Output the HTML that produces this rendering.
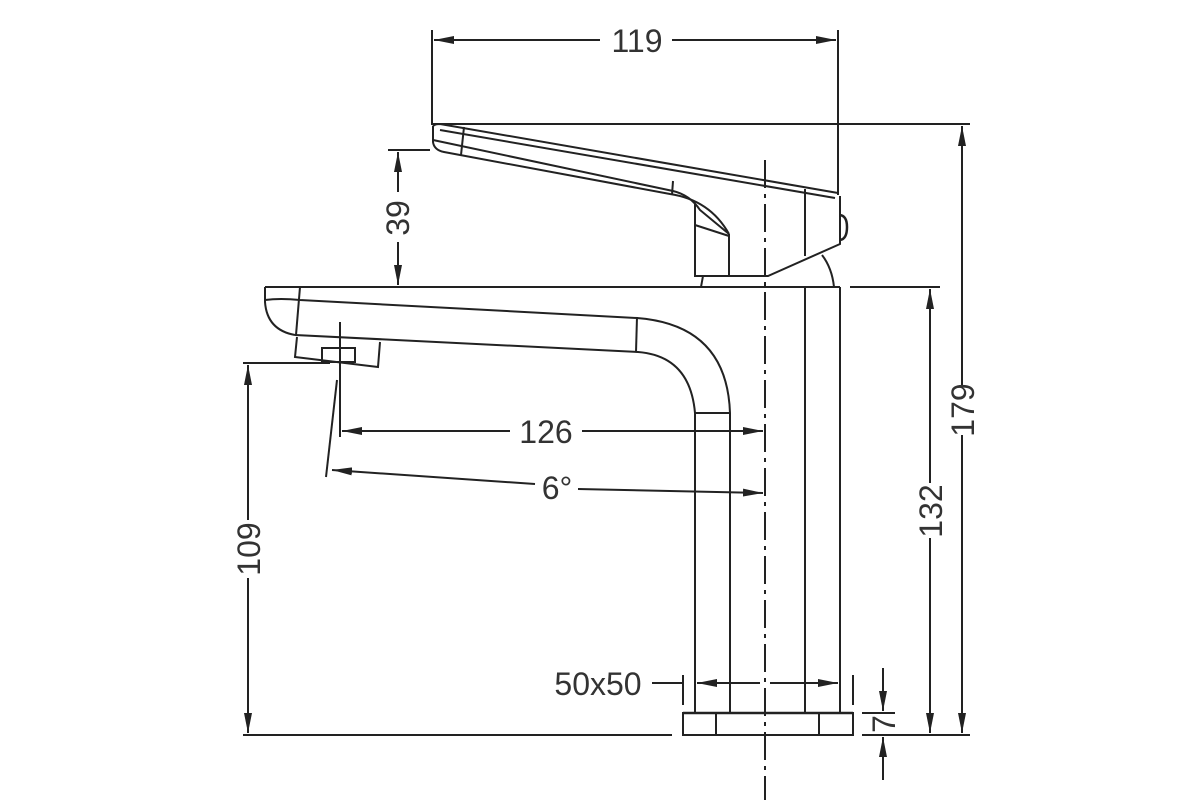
<!DOCTYPE html>
<html><head><meta charset="utf-8"><style>
html,body{margin:0;padding:0;background:#fff;}
svg{display:block;}
text{font-family:"Liberation Sans",sans-serif;font-size:32px;fill:#333;}
</style></head><body>
<svg width="1200" height="800" viewBox="0 0 1200 800" xmlns="http://www.w3.org/2000/svg">
<defs>
<marker id="a" viewBox="0 0 20 8" refX="20" refY="4" markerWidth="20" markerHeight="8" markerUnits="userSpaceOnUse" orient="auto"><path d="M0,0 L20,4 L0,8 Z" fill="#222"/></marker>
</defs>
<g stroke="#222" stroke-width="2" fill="none">
<line x1="432" y1="30" x2="432" y2="125"/>
<line x1="838" y1="30" x2="838" y2="195"/>
<line x1="600" y1="40" x2="434" y2="40" marker-end="url(#a)"/>
<line x1="672" y1="40" x2="836" y2="40" marker-end="url(#a)"/>
<line x1="432" y1="124" x2="970" y2="124"/>
<line x1="962" y1="385" x2="962" y2="126" marker-end="url(#a)"/>
<line x1="962" y1="435" x2="962" y2="733" marker-end="url(#a)"/>
<line x1="850" y1="287" x2="940" y2="287"/>
<line x1="930" y1="483" x2="930" y2="289" marker-end="url(#a)"/>
<line x1="930" y1="538" x2="930" y2="733" marker-end="url(#a)"/>
<line x1="388" y1="150" x2="430" y2="150"/>
<line x1="398" y1="192" x2="398" y2="152" marker-end="url(#a)"/>
<line x1="398" y1="242" x2="398" y2="285" marker-end="url(#a)"/>
<line x1="243" y1="363" x2="330" y2="363"/>
<line x1="248" y1="520" x2="248" y2="365" marker-end="url(#a)"/>
<line x1="248" y1="578" x2="248" y2="733" marker-end="url(#a)"/>
<line x1="243" y1="735" x2="672" y2="735"/>
<line x1="862" y1="735" x2="970" y2="735"/>
<line x1="862" y1="713" x2="895" y2="713"/>
<line x1="883" y1="668" x2="883" y2="711" marker-end="url(#a)"/>
<line x1="883" y1="780" x2="883" y2="737" marker-end="url(#a)"/>
<line x1="652" y1="683" x2="683" y2="683"/>
<line x1="683" y1="675" x2="683" y2="705"/>
<line x1="853" y1="675" x2="853" y2="705"/>
<line x1="760" y1="683" x2="697" y2="683" marker-end="url(#a)"/>
<line x1="770" y1="683" x2="838" y2="683" marker-end="url(#a)"/>
<line x1="340" y1="322" x2="340" y2="437"/>
<line x1="510" y1="431" x2="342" y2="431" marker-end="url(#a)"/>
<line x1="582" y1="431" x2="763" y2="431" marker-end="url(#a)"/>
<line x1="337" y1="380" x2="326" y2="477"/>
<line x1="535" y1="484" x2="332" y2="470" marker-end="url(#a)"/>
<line x1="578" y1="489" x2="763" y2="493" marker-end="url(#a)"/>
<line x1="765" y1="160" x2="765" y2="800" stroke-dasharray="28,6,4,6"/>
<path d="M433,126 Q435,124 440,124 L838,193"/>
<path d="M440,130 L835,198"/>
<path d="M433,126 L433,142 Q434,150 444,152 L670,194 Q710,200 729,234"/>
<path d="M433,140 L673,191 Q690,195 700,210 L729,234"/>
<line x1="464" y1="127" x2="461" y2="155"/>
<line x1="673" y1="181" x2="672" y2="195"/>
<path d="M695,204 L695,276 L768,276 L840,244 L840,196"/>
<line x1="695" y1="225" x2="729" y2="236"/>
<line x1="729" y1="234" x2="729" y2="276"/>
<line x1="805" y1="189" x2="805" y2="256"/>
<path d="M840,215 Q847,216 847,227 Q847,239 840,240" stroke-width="2.5"/>
<path d="M822,255 Q832,268 834,287"/>
<line x1="703" y1="276" x2="701" y2="287"/>
<line x1="265" y1="287" x2="840" y2="287"/>
<path d="M265,287 L265,302 Q267,330 295,335"/>
<path d="M265,300 Q280,298 300,300 L637,318 Q727,325 730,413"/>
<path d="M295,335 L638,352 Q690,356 695,413"/>
<line x1="300" y1="287" x2="296" y2="335"/>
<line x1="637" y1="317" x2="636" y2="352"/>
<path d="M297,337 L295,357 L378,367 L380,342"/>
<rect x="322" y="348" width="33" height="14"/>
<line x1="695" y1="413" x2="730" y2="413"/>
<line x1="695" y1="413" x2="695" y2="713"/>
<line x1="730" y1="413" x2="730" y2="713"/>
<line x1="805" y1="287" x2="805" y2="713"/>
<line x1="840" y1="287" x2="840" y2="713"/>
<line x1="683" y1="713" x2="853" y2="713" stroke-width="2.6"/>
<rect x="683" y="713" width="170" height="22"/>
<line x1="716" y1="713" x2="716" y2="735"/>
<line x1="819" y1="713" x2="819" y2="735"/>
</g>
<text x="637" y="52" text-anchor="middle">119</text>
<text x="546" y="443" text-anchor="middle">126</text>
<text x="557" y="499" text-anchor="middle">6°</text>
<text x="598" y="695" text-anchor="middle">50x50</text>
<text transform="translate(409,218) rotate(-90)" text-anchor="middle">39</text>
<text transform="translate(260,549) rotate(-90)" text-anchor="middle">109</text>
<text transform="translate(942,511) rotate(-90)" text-anchor="middle">132</text>
<text transform="translate(974,410) rotate(-90)" text-anchor="middle">179</text>
<text transform="translate(895,724) rotate(-90)" text-anchor="middle">7</text>
</svg>
</body></html>
